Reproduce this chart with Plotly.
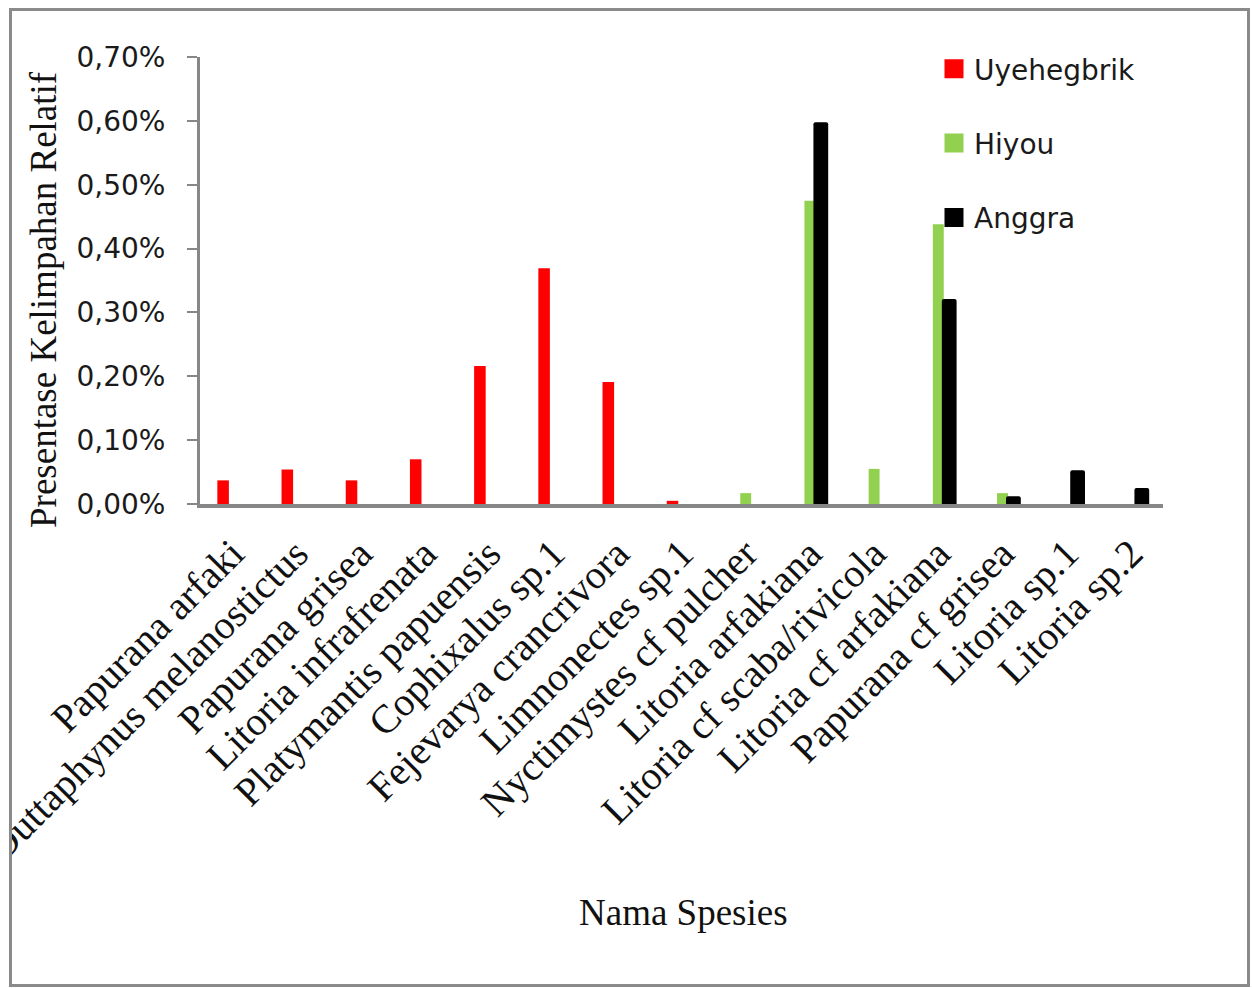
import plotly.graph_objects as go

# Species (x categories) and relative abundance per site, in percent
species = [
    "Papurana arfaki",
    "Duttaphynus melanostictus",
    "Papurana grisea",
    "Litoria infrafrenata",
    "Platymantis papuensis",
    "Cophixalus sp.1",
    "Fejevarya crancrivora",
    "Limnonectes sp.1",
    "Nyctimystes cf pulcher",
    "Litoria arfakiana",
    "Litoria cf scaba/rivicola",
    "Litoria cf arfakiana",
    "Papurana cf grisea",
    "Litoria sp.1",
    "Litoria sp.2",
]
uyehegbrik = [0.037, 0.054, 0.037, 0.070, 0.216, 0.369, 0.191, 0.005,
              None, None, None, None, None, None, None]
hiyou = [None, None, None, None, None, None, None, None,
         0.017, 0.475, 0.055, 0.438, 0.017, None, None]
anggra = [None, None, None, None, None, None, None, None,
          None, 0.598, None, 0.321, 0.012, 0.053, 0.025]
y_ticks = [0.0, 0.1, 0.2, 0.3, 0.4, 0.5, 0.6, 0.7]
y_tick_text = ["0,00%", "0,10%", "0,20%", "0,30%", "0,40%", "0,50%", "0,60%", "0,70%"]

RED = "#ff0000"
GREEN = "#92d050"
BLACK = "#000000"
AXIS = "#878787"

W, H = 1252, 988
L, R, T, B = 200, 89, 57, 484

fig = go.Figure()

# Bars (overlaid with custom offsets so the groups overlap slightly)
fig.add_trace(go.Bar(x=species, y=uyehegbrik, name="Uyehegbrik",
                     marker=dict(color=RED, line=dict(width=0)),
                     width=0.18, offset=-0.23, showlegend=False))
fig.add_trace(go.Bar(x=species, y=hiyou, name="Hiyou",
                     marker=dict(color=GREEN, line=dict(width=0)),
                     width=0.17, offset=-0.085, showlegend=False))
fig.add_trace(go.Bar(x=species, y=anggra, name="Anggra",
                     marker=dict(color=BLACK, line=dict(width=0), cornerradius=2),
                     width=0.23, offset=0.055, showlegend=False))

# Legend entries with larger square swatches
for nm, col in [("Uyehegbrik", RED), ("Hiyou", GREEN), ("Anggra", BLACK)]:
    fig.add_trace(go.Scatter(x=[None], y=[None], mode="markers", name=nm,
                             legendgroup=nm,
                             marker=dict(symbol="square", size=16, color=col,
                                         line=dict(width=3, color=col))))

# Paper-pixel helpers for layout decorations
def px_x(p):
    return (p - L) / (W - L - R)

def px_y(p):
    return (H - B - p) / (H - T - B)

fig.update_layout(
    width=W, height=H,
    margin=dict(l=L, r=R, t=T, b=B, autoexpand=False),
    paper_bgcolor="white", plot_bgcolor="white",
    barmode="overlay",
    showlegend=True,
    legend=dict(
        xref="container", yref="container",
        x=934 / W, y=1 - 44 / H, xanchor="left", yanchor="top",
        font=dict(family="DejaVu Sans", size=28, color="#1a1a1a"),
        tracegroupgap=35, itemsizing="trace", bgcolor="rgba(0,0,0,0)",
    ),
    xaxis=dict(
        type="category", range=[-0.5, len(species) - 0.5],
        showline=True, linecolor=AXIS, linewidth=4,
        ticks="", showgrid=False, zeroline=False,
        tickangle=-45,
        tickfont=dict(family="Liberation Serif", size=40, color="#111111"),
        ticklabelstandoff=6,
    ),
    yaxis=dict(
        range=[0, 0.7], tickvals=y_ticks, ticktext=y_tick_text,
        showline=True, linecolor=AXIS, linewidth=3,
        ticks="outside", ticklen=10, tickwidth=2, tickcolor=AXIS,
        showgrid=False, zeroline=False,
        tickfont=dict(family="DejaVu Sans", size=28, color="#1a1a1a"),
        ticklabelstandoff=16,
    ),
    annotations=[
        dict(text="Nama Spesies", xref="paper", yref="paper",
             x=px_x(683), y=px_y(912), xanchor="center", yanchor="middle",
             showarrow=False,
             font=dict(family="Liberation Serif", size=37, color="#111111")),
        dict(text="Presentase Kelimpahan Relatif", xref="paper", yref="paper",
             x=px_x(43), y=px_y(300), xanchor="center", yanchor="middle",
             textangle=-90, showarrow=False,
             font=dict(family="Liberation Serif", size=37, color="#111111")),
    ],
    shapes=[
        # white margin outside the frame, then the frame itself
        dict(type="rect", xref="paper", yref="paper", layer="above",
             x0=px_x(-5), x1=px_x(9), y0=px_y(-5), y1=px_y(H + 5),
             fillcolor="white", line=dict(width=0)),
        dict(type="rect", xref="paper", yref="paper", layer="above",
             x0=px_x(10.5), x1=px_x(1248.5), y0=px_y(9.5), y1=px_y(985.5),
             fillcolor="rgba(0,0,0,0)", line=dict(color="#8a8a8a", width=3)),
    ],
)

fig.write_html("out.html")
